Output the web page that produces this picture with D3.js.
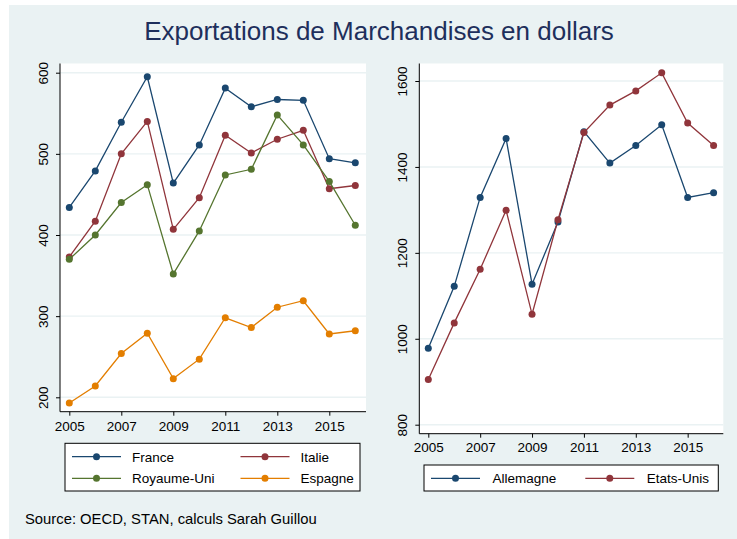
<!DOCTYPE html>
<html>
<head>
<meta charset="utf-8">
<script src="https://cdn.jsdelivr.net/npm/d3@7"></script>
<style>
  body { margin: 0; background: #fff; }
  svg { display: block; font-family: "Liberation Sans", Arial, sans-serif; }
</style>
</head>
<body>
<svg id="chart" width="737" height="539"></svg>
<script>
const years = [2005, 2006, 2007, 2008, 2009, 2010, 2011, 2012, 2013, 2014, 2015, 2016];
const yearTicks = [2005, 2007, 2009, 2011, 2013, 2015];

// left panel
const france = [434, 479, 539, 595, 464, 511, 581, 558, 567, 566, 494, 489];
const italie = [373, 417, 500, 540, 407, 446, 523, 501, 518, 529, 457, 461];
const royaumeUni = [370, 400, 440, 462, 352, 405, 474, 481, 548, 511, 466, 412];
const espagne = [193, 214, 254, 279, 223, 247, 298, 286, 311, 319, 278, 282];
const leftTicks = [200, 300, 400, 500, 600];

// right panel
const allemagne = [978, 1122, 1329, 1466, 1127, 1272, 1482, 1409, 1450, 1498, 1329, 1340];
const etatsUnis = [905, 1037, 1162, 1299, 1057, 1277, 1480, 1544, 1577, 1619, 1502, 1450];
const rightTicks = [800, 1000, 1200, 1400, 1600];

const navy = "#1a476f", maroon = "#90353b", green = "#55752f", orange = "#e37e00";

const svg = d3.select("#chart");
const bg = "#eaf2f3";

svg.append("rect").attr("x", 9).attr("y", 5).attr("width", 728).attr("height", 534).attr("fill", bg);

svg.append("text")
  .attr("x", 379).attr("y", 39.5)
  .attr("text-anchor", "middle")
  .attr("font-size", "26px")
  .attr("fill", "#1e2f5c")
  .text("Exportations de Marchandises en dollars");

function panel(opt) {
  const x = d3.scaleLinear().domain([2005, 2016]).range(opt.xr);
  const y = d3.scaleLinear().domain(opt.yd).range(opt.yr);
  const g = svg.append("g");

  g.append("rect")
    .attr("x", opt.left).attr("y", opt.top)
    .attr("width", opt.right - opt.left).attr("height", opt.bottom - opt.top)
    .attr("fill", "#fff");

  // grid
  g.selectAll(".grid").data(opt.yticks).join("line")
    .attr("x1", opt.left).attr("x2", opt.right)
    .attr("y1", d => y(d)).attr("y2", d => y(d))
    .attr("stroke", bg).attr("stroke-width", 1.4);

  // axes
  const ya = g.append("g").attr("transform", `translate(${opt.left},0)`)
    .call(d3.axisLeft(y).tickValues(opt.yticks).tickSize(4).tickPadding(0).tickFormat(d3.format("d")));
  ya.select(".domain").attr("d", `M-0,${opt.top}V${opt.bottom}`).attr("stroke", "#000");
  ya.selectAll(".tick text")
    .attr("transform", "rotate(-90)")
    .attr("x", 0).attr("y", -opt.ylab).attr("dy", 0)
    .attr("text-anchor", "middle")
    .attr("font-size", "13.5px").attr("fill", "#000");

  const xa = g.append("g").attr("transform", `translate(0,${opt.bottom})`)
    .call(d3.axisBottom(x).tickValues(yearTicks).tickSize(4).tickFormat(d3.format("d")));
  xa.select(".domain").attr("d", `M${opt.left},0H${opt.right}`).attr("stroke", "#000");
  xa.selectAll(".tick text")
    .attr("y", opt.xlab).attr("dy", 0)
    .attr("font-size", "13.5px").attr("fill", "#000");
  g.selectAll(".tick line").attr("stroke", "#000");

  const line = d3.line().x((d, i) => x(years[i])).y(d => y(d));
  opt.series.forEach(s => {
    g.append("path").datum(s.values)
      .attr("d", line).attr("fill", "none")
      .attr("stroke", s.color).attr("stroke-width", 1.3);
    g.selectAll(null).data(s.values).join("circle")
      .attr("cx", (d, i) => x(years[i])).attr("cy", d => y(d))
      .attr("r", 3.5).attr("fill", s.color);
  });

  // legend
  const lg = g.append("g");
  lg.append("rect")
    .attr("x", opt.legend.x).attr("y", opt.legend.y)
    .attr("width", opt.legend.w).attr("height", opt.legend.h)
    .attr("fill", "#fff").attr("stroke", "#000").attr("stroke-width", 1);
  opt.series.forEach((s, i) => {
    const col = i % 2, row = Math.floor(i / 2);
    const lx = opt.legend.x + 7 + col * opt.legend.colW;
    const ly = opt.legend.y + opt.legend.row0 + row * 21.6;
    lg.append("line").attr("x1", lx).attr("x2", lx + 49).attr("y1", ly).attr("y2", ly)
      .attr("stroke", s.color).attr("stroke-width", 1.3);
    lg.append("circle").attr("cx", lx + 24.5).attr("cy", ly).attr("r", 3.5).attr("fill", s.color);
    lg.append("text").attr("x", lx + opt.legend.textDx).attr("y", ly + 5)
      .attr("font-size", "13.5px").attr("fill", "#000").text(s.name);
  });
}

panel({
  left: 60, right: 366, top: 63.5, bottom: 411.7,
  xr: [69.3, 355.3], yd: [200, 600], yr: [397.3, 72.7],
  yticks: leftTicks, ylab: 12, xlab: 19.5,
  series: [
    { name: "France", values: france, color: navy },
    { name: "Italie", values: italie, color: maroon },
    { name: "Royaume-Uni", values: royaumeUni, color: green },
    { name: "Espagne", values: espagne, color: orange }
  ],
  legend: { x: 65, y: 443.3, w: 295, h: 47.7, colW: 168.5, row0: 13.4, textDx: 60 }
});

panel({
  left: 419.3, right: 723.3, top: 63.5, bottom: 433.7,
  xr: [428.3, 713.6], yd: [800, 1600], yr: [424.7, 81],
  yticks: rightTicks, ylab: 12, xlab: 18,
  series: [
    { name: "Allemagne", values: allemagne, color: navy },
    { name: "Etats-Unis", values: etatsUnis, color: maroon }
  ],
  legend: { x: 424, y: 465, w: 294.3, h: 26, colW: 154.3, row0: 13.3, textDx: 61.5 }
});

svg.append("text")
  .attr("x", 25).attr("y", 524)
  .attr("font-size", "14.8px").attr("fill", "#000")
  .text("Source: OECD, STAN, calculs Sarah Guillou");
</script>
</body>
</html>
